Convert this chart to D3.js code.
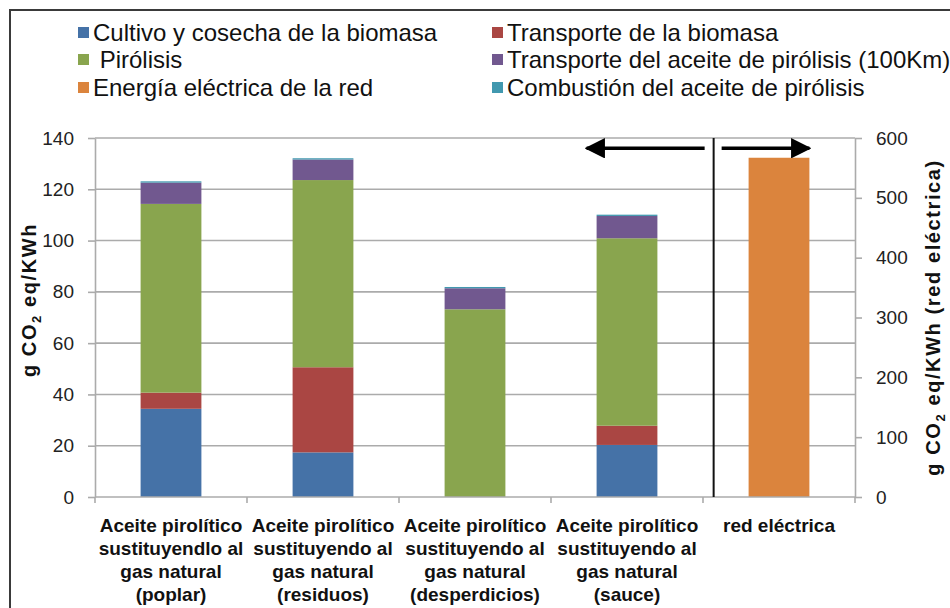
<!DOCTYPE html>
<html>
<head>
<meta charset="utf-8">
<script src="https://cdn.jsdelivr.net/npm/d3@7"></script>
<style>
  html, body { margin: 0; padding: 0; background: #fff; }
  svg { display: block; }
  text { font-family: "Liberation Sans", Arial, sans-serif; }
</style>
</head>
<body>
<svg id="chart" width="950" height="608"></svg>
<script>
// ---------------- DATA ----------------
const categoryLines = [
  ["Aceite pirolítico", "sustituyendlo al", "gas natural", "(poplar)"],
  ["Aceite pirolítico", "sustituyendo al", "gas natural", "(residuos)"],
  ["Aceite pirolítico", "sustituyendo al", "gas natural", "(desperdicios)"],
  ["Aceite pirolítico", "sustituyendo al", "gas natural", "(sauce)"],
  ["red eléctrica"]
];
const cultivo           = [34.4, 17.4, 0, 20.3, 0];
const transporteBiomasa = [6.3, 33.2, 0, 7.5, 0];
const pirolisis         = [73.6, 73.0, 73.2, 73.1, 0];
const transporteAceite  = [8.3, 8.0, 8.2, 8.7, 0];
const combustion        = [0.5, 0.5, 0.5, 0.5, 0];
const energiaRed        = [0, 0, 0, 0, 567];   // secondary axis
const leftTicks  = [0, 20, 40, 60, 80, 100, 120, 140];
const rightTicks = [0, 100, 200, 300, 400, 500, 600];

const seriesNames = {
  cultivo: "Cultivo y cosecha de la biomasa",
  transporteBiomasa: "Transporte de la biomasa",
  pirolisis: " Pirólisis",
  transporteAceite: "Transporte del aceite de pirólisis (100Km)",
  energiaRed: "Energía eléctrica de la red",
  combustion: "Combustión del aceite de pirólisis"
};
const colors = {
  cultivo: "#4572A7", transporteBiomasa: "#AA4643", pirolisis: "#89A54E",
  transporteAceite: "#71588F", energiaRed: "#DB843D", combustion: "#4198AF"
};
const legendOrder = [["cultivo", "transporteBiomasa"], ["pirolisis", "transporteAceite"], ["energiaRed", "combustion"]];

// ---------------- LAYOUT ----------------
const svg = d3.select("#chart");
const L = 95, R = 855, T = 138, B = 497;
const x = d3.scaleBand().domain(d3.range(categoryLines.length)).range([L, R]).paddingInner(0.6).paddingOuter(0.3);
const yL = d3.scaleLinear().domain([0, 140]).range([B, T]);
const yR = d3.scaleLinear().domain([0, 600]).range([B, T]);
const gridColor = "#ababab";

// outer frame
svg.append("rect").attr("x", 10).attr("y", 10).attr("width", 960).attr("height", 620)
  .attr("fill", "none").attr("stroke", "#3a3a3a").attr("stroke-width", 2);

// gridlines
svg.append("g").selectAll("line").data(leftTicks.filter(d => d > 0)).join("line")
  .attr("x1", L).attr("x2", R).attr("y1", d => yL(d)).attr("y2", d => yL(d))
  .attr("stroke", gridColor).attr("stroke-width", 1.6);

// stacked bars (left axis)
const stackKeys = ["cultivo", "transporteBiomasa", "pirolisis", "transporteAceite", "combustion"];
const stackSrc = { cultivo, transporteBiomasa, pirolisis, transporteAceite, combustion };
const rows = d3.range(categoryLines.length).map(i => {
  const o = { i };
  stackKeys.forEach(k => o[k] = stackSrc[k][i]);
  return o;
});
const stacked = d3.stack().keys(stackKeys)(rows);
svg.append("g").selectAll("g").data(stacked).join("g")
  .attr("fill", d => colors[d.key])
  .selectAll("rect").data(d => d.filter(s => s[1] - s[0] > 0)).join("rect")
  .attr("x", d => x(d.data.i)).attr("width", x.bandwidth())
  .attr("y", d => yL(d[1])).attr("height", d => yL(d[0]) - yL(d[1]));

// secondary-axis bar
svg.append("g").selectAll("rect").data(energiaRed.map((v, i) => ({ v, i })).filter(d => d.v > 0)).join("rect")
  .attr("fill", colors.energiaRed)
  .attr("x", d => x(d.i)).attr("width", x.bandwidth())
  .attr("y", d => yR(d.v)).attr("height", d => B - yR(d.v));

// axes
function styleAxis(g) {
  g.select(".domain").attr("stroke", gridColor).attr("stroke-width", 1.6);
  g.selectAll(".tick line").attr("stroke", gridColor).attr("stroke-width", 1.6);
  g.selectAll(".tick text").attr("fill", "#222").style("font-size", "19px")
    .style("font-family", "'Liberation Sans', Arial, sans-serif");
}
svg.append("g").attr("transform", `translate(${L},0)`)
  .call(d3.axisLeft(yL).tickValues(leftTicks).tickSize(7).tickSizeOuter(0).tickPadding(14))
  .call(styleAxis);
svg.append("g").attr("transform", `translate(${R},0)`)
  .call(d3.axisRight(yR).tickValues(rightTicks).tickSize(7).tickSizeOuter(0).tickPadding(14))
  .call(styleAxis);

// bottom axis with ticks at band boundaries
const boundaries = d3.range(categoryLines.length + 1).map(i => L + i * x.step());
svg.append("line").attr("x1", L).attr("x2", R).attr("y1", B).attr("y2", B)
  .attr("stroke", gridColor).attr("stroke-width", 1.6);
svg.append("g").selectAll("line").data(boundaries).join("line")
  .attr("x1", d => d).attr("x2", d => d).attr("y1", B).attr("y2", B + 6)
  .attr("stroke", gridColor).attr("stroke-width", 1.6);

// category labels
const catG = svg.append("g").selectAll("text").data(categoryLines).join("text")
  .attr("text-anchor", "middle").attr("fill", "#111")
  .style("font-size", "19px").style("font-weight", "bold")
  .attr("x", (d, i) => x(i) + x.bandwidth() / 2).attr("y", 532);
catG.selectAll("tspan").data(d => d).join("tspan")
  .attr("x", function () { return d3.select(this.parentNode).attr("x"); })
  .attr("dy", (d, j) => j === 0 ? 0 : 23).text(d => d);

// axis titles
function title(xPos, yPos, parts) {
  const t = svg.append("text").attr("transform", `translate(${xPos},${yPos}) rotate(-90)`)
    .attr("text-anchor", "middle").attr("fill", "#111")
    .style("font-size", "20px").style("font-weight", "bold").style("letter-spacing", "1.6px");
  t.append("tspan").text("g CO");
  t.append("tspan").text("2").style("font-size", "13px").attr("dy", 5);
  t.append("tspan").text(parts).attr("dy", -5);
}
title(36, 300, " eq/KWh");
title(940, (T + B) / 2, " eq/KWh (red eléctrica)");

// separator line & arrows
const sepX = x(4) - 0.23 * x.step();
svg.append("line").attr("x1", sepX).attr("x2", sepX).attr("y1", T).attr("y2", B)
  .attr("stroke", "#111").attr("stroke-width", 2);
const arrowY = yL(136);
const defs = svg.append("defs");
defs.append("marker").attr("id", "ah").attr("viewBox", "0 0 10 10").attr("refX", 9).attr("refY", 5)
  .attr("markerWidth", 6).attr("markerHeight", 6).attr("markerUnits", "strokeWidth").attr("orient", "auto")
  .append("path").attr("d", "M0,0 L10,5 L0,10 z").attr("fill", "#000");
svg.append("line").attr("x1", sepX - 9).attr("x2", x(3) - 10).attr("y1", arrowY).attr("y2", arrowY)
  .attr("stroke", "#000").attr("stroke-width", 3.4).attr("marker-end", "url(#ah)");
svg.append("line").attr("x1", sepX + 8).attr("x2", x(4) + x.bandwidth()).attr("y1", arrowY).attr("y2", arrowY)
  .attr("stroke", "#000").attr("stroke-width", 3.4).attr("marker-end", "url(#ah)");

// legend
const colX = [78, 492], rowY = [33, 60, 88];
legendOrder.forEach((row, r) => row.forEach((key, c) => {
  const g = svg.append("g").attr("transform", `translate(${colX[c]},${rowY[r]})`);
  g.append("rect").attr("x", 0).attr("y", -6).attr("width", 11).attr("height", 11).attr("fill", colors[key]);
  g.append("text").attr("x", 15).attr("y", 8).attr("fill", "#111").style("font-size", "24px")
    .style("white-space", "pre").text(seriesNames[key]);
}));
</script>
</body>
</html>
